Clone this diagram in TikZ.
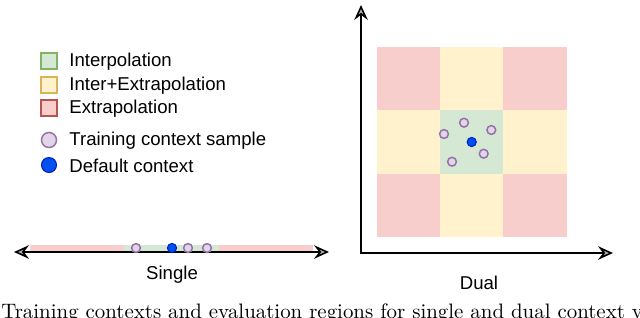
\documentclass[tikz,border=0pt]{standalone}
\usepackage{fontspec}
\setsansfont{Liberation Sans}
\usetikzlibrary{arrows.meta}

\definecolor{interfill}{HTML}{D5E8D4}
\definecolor{interdraw}{HTML}{82B366}
\definecolor{mixfill}{HTML}{FFF2CC}
\definecolor{mixdraw}{HTML}{D6B656}
\definecolor{extrafill}{HTML}{F8CECC}
\definecolor{extradraw}{HTML}{B85450}
\definecolor{samplefill}{HTML}{E1D5E7}
\definecolor{sampledraw}{HTML}{9673A6}
\definecolor{defaultfill}{HTML}{0050EF}
\definecolor{defaultdraw}{HTML}{001DBC}

\begin{document}
\begin{tikzpicture}[x=0.5pt,y=-0.5pt,
  lbl/.style={font=\sffamily\fontsize{9.3}{11}\selectfont, inner sep=0pt},
  keybox/.style={draw, line width=0.6pt, minimum size=8pt, inner sep=0pt},
  sample/.style={circle, draw=sampledraw, fill=samplefill, line width=0.75pt, minimum size=4.4pt, inner sep=0pt},
  defctx/.style={circle, draw=defaultdraw, fill=defaultfill, line width=0.5pt, minimum size=4.6pt, inner sep=0pt},
  axtip/.tip={Stealth[fill=gray!60, length=7.5pt, width=6.8pt, inset=2.6pt, line width=0.8pt]},
  axis/.style={line width=0.8pt, arrows={axtip-axtip}}]

\useasboundingbox (0,0) rectangle (640,317);

% legend
\node[keybox, draw=interdraw, fill=interfill] (kint) at (49,61) {};
\node[keybox, draw=mixdraw, fill=mixfill] (kmix) at (49,85) {};
\node[keybox, draw=extradraw, fill=extrafill] (kext) at (49,108) {};
\node[sample, minimum size=7.5pt] (ksmp) at (49,140) {};
\node[defctx, minimum size=7.5pt] (kdef) at (49,165) {};
\node[lbl, anchor=west] (tint) at (69,62) {Interpolation};
\node[lbl, anchor=west] (tmix) at (69,86) {Inter+Extrapolation};
\node[lbl, anchor=west] (text) at (69,109) {Extrapolation};
\node[lbl, anchor=west] (tsmp) at (69,141) {Training context sample};
\node[lbl, anchor=west] (tdef) at (69,166) {Default context};

% single context
\fill[extrafill] (30,245) rectangle (124,252);
\fill[interfill] (124,245) rectangle (219,252);
\fill[extrafill] (219,245) rectangle (313,252);
\coordinate (sl) at (14,252);
\coordinate (sr) at (329,252);
\draw[axis] (sl) -- (sr);
\foreach \x in {136,188,207}
{
    \node[sample] at (\x,248) {};
}
\node[defctx] (sdef) at (172,248) {};
\node[lbl] (single) at (172,275) {Single};

% dual context
\foreach \i/\j/\c in {0/0/extrafill,1/0/mixfill,2/0/extrafill,
                      0/1/mixfill,1/1/interfill,2/1/mixfill,
                      0/2/extrafill,1/2/mixfill,2/2/extrafill}
{
    \fill[\c] (376.7+63.33*\i,47.3+63.13*\j) rectangle +(63.33,63.13);
}
\coordinate (origin) at (361,253);
\coordinate (ytip) at (361,5);
\coordinate (xtip) at (613,253);
\draw[axis] (ytip) -- (origin) -- (xtip);
\foreach \x/\y in {464/122.7,444/134,491.3/130,483.7/153.7,452/161.7}
{
    \node[sample] at (\x,\y) {};
}
\node[defctx] (ddef) at (471.7,142) {};
\node[lbl] (dual) at (479,283) {Dual};

% caption (cut off at the bottom)
\node[anchor=base west, inner sep=0pt, font=\fontsize{10.45}{12}\selectfont] (caption) at (1,318)
  {Training contexts and evaluation regions for single and dual context variation.};

\end{tikzpicture}
\end{document}
